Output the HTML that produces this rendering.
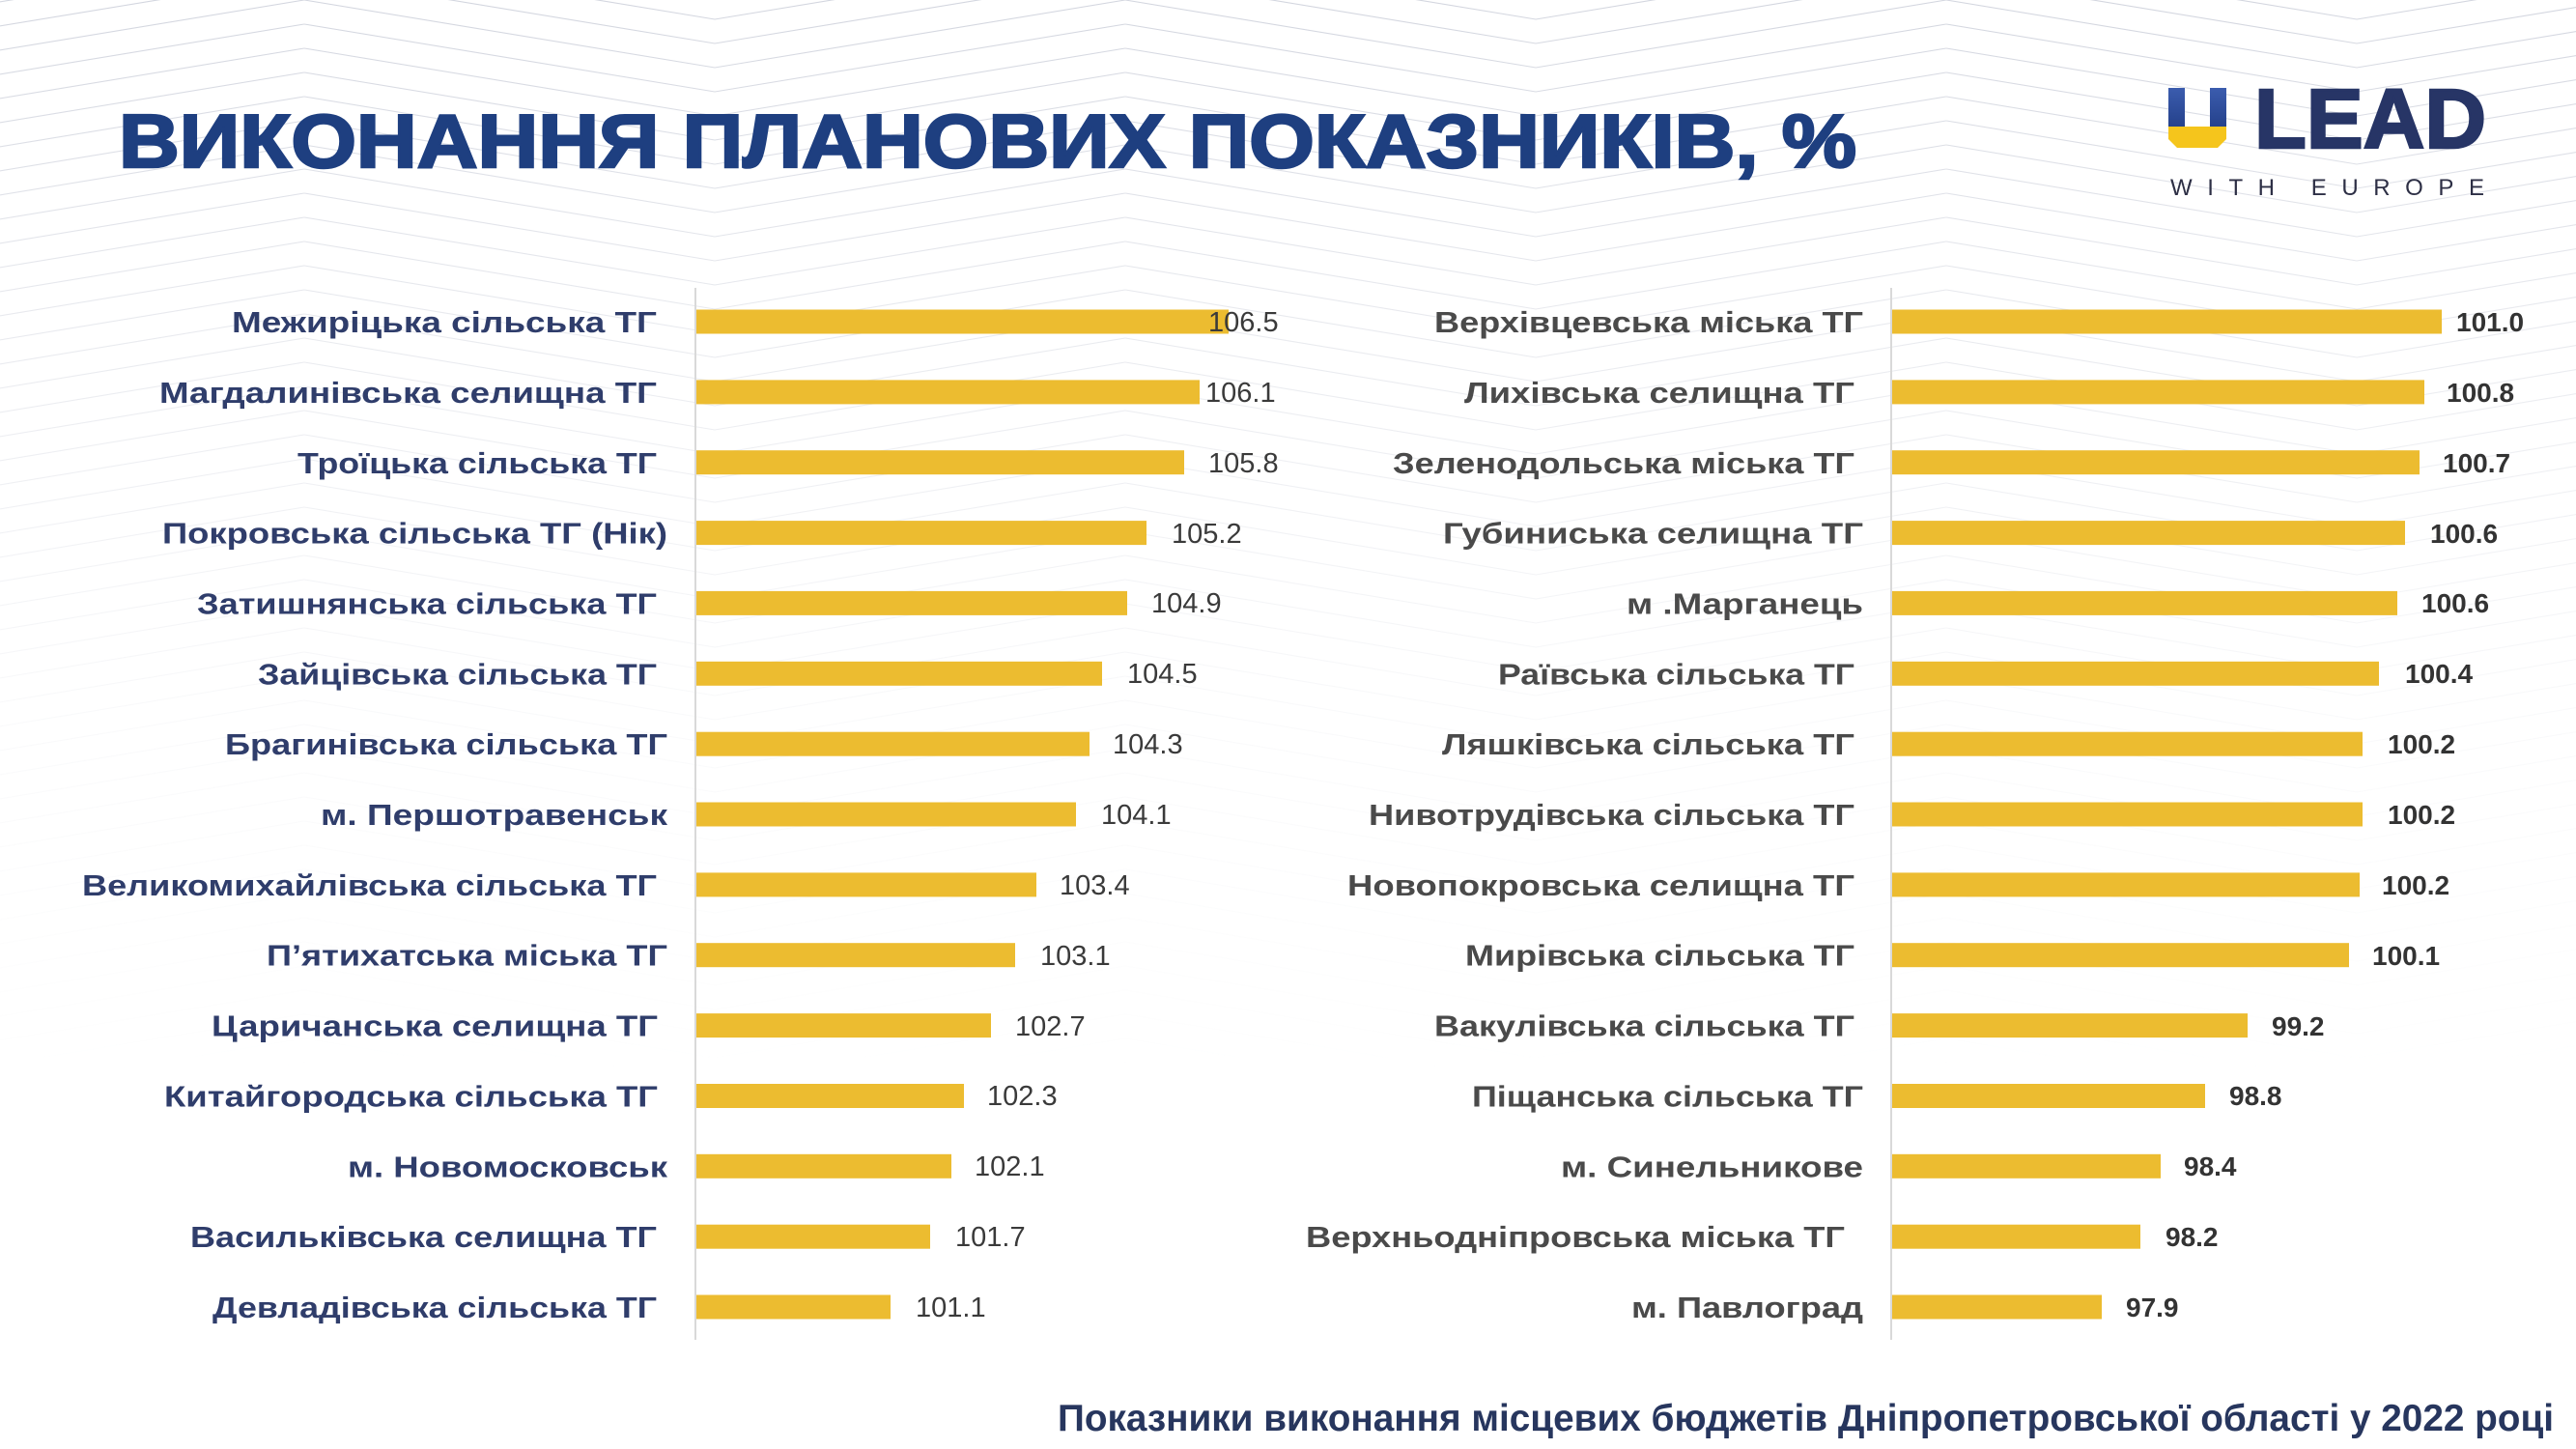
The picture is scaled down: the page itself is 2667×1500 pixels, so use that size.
<!DOCTYPE html>
<html><head><meta charset="utf-8"><style>
html,body{margin:0;padding:0;background:#fff;}
svg{display:block;}
.lab{font-family:"Liberation Sans",sans-serif;font-weight:bold;font-size:31px;fill:#2f3d6b;}
.labr{font-family:"Liberation Sans",sans-serif;font-weight:bold;font-size:31px;fill:#4a4a4a;}
.val{font-family:"Liberation Sans",sans-serif;font-size:29px;fill:#3a3a3a;}
.valr{font-family:"Liberation Sans",sans-serif;font-weight:bold;font-size:28px;fill:#333;}
</style></head><body>
<svg width="2667" height="1500" viewBox="0 0 2667 1500" xmlns="http://www.w3.org/2000/svg">
<defs>
<pattern id="zz" patternUnits="userSpaceOnUse" x="315" y="0" width="850" height="25">
<g fill="none" stroke="#d3d6df" stroke-width="1.1">
<polyline points="0,-75 425,-5 850,-75"/>
<polyline points="0,-50 425,20 850,-50"/>
<polyline points="0,-25 425,45 850,-25"/>
<polyline points="0,0 425,70 850,0"/>
<polyline points="0,25 425,95 850,25"/>
</g>
</pattern>
<linearGradient id="fade" x1="0" y1="0" x2="0" y2="1">
<stop offset="0" stop-color="#fff" stop-opacity="1"/>
<stop offset="0.2" stop-color="#fff" stop-opacity="0.55"/>
<stop offset="0.5" stop-color="#fff" stop-opacity="0.12"/>
<stop offset="0.75" stop-color="#fff" stop-opacity="0"/>
<stop offset="1" stop-color="#fff" stop-opacity="0"/>
</linearGradient>
<mask id="fm"><rect x="0" y="0" width="2667" height="1500" fill="url(#fade)"/></mask>
<linearGradient id="ublue" x1="0" y1="0" x2="0" y2="1">
<stop offset="0" stop-color="#3b5cae"/>
<stop offset="1" stop-color="#24408a"/>
</linearGradient>
</defs>
<rect x="0" y="0" width="2667" height="1500" fill="#fff"/>
<rect x="0" y="0" width="2667" height="1500" fill="url(#zz)" mask="url(#fm)"/>

<!-- Title -->
<text x="123" y="173" font-family="Liberation Sans, sans-serif" font-weight="bold" font-size="78" fill="#1e3f80" stroke="#1e3f80" stroke-width="2.5" textLength="1799" lengthAdjust="spacingAndGlyphs">ВИКОНАННЯ ПЛАНОВИХ ПОКАЗНИКІВ, %</text>

<!-- Logo -->
<rect x="2245" y="91" width="17" height="42" fill="url(#ublue)"/>
<rect x="2288" y="91" width="17" height="42" fill="url(#ublue)"/>
<polygon points="2245,131 2305,131 2305,144 2296,153 2254,153 2245,144" fill="#f5c51c"/>
<text x="2334" y="153" font-family="Liberation Sans, sans-serif" font-weight="bold" font-size="87" fill="#273566" stroke="#273566" stroke-width="2.5" textLength="240" lengthAdjust="spacingAndGlyphs">LEAD</text>
<text x="2247" y="202" font-family="Liberation Sans, sans-serif" font-size="24" fill="#2d2f45" textLength="325" lengthAdjust="spacing">WITH EUROPE</text>

<!-- Axes -->
<line x1="720" y1="298" x2="720" y2="1387" stroke="#d9d9d9" stroke-width="2"/>
<line x1="1958" y1="298" x2="1958" y2="1387" stroke="#d9d9d9" stroke-width="2"/>

<!-- Left bars -->
<g fill="#ecbc30">
<rect x="721" y="320.5" width="551" height="25"/>
<rect x="721" y="393.4" width="521" height="25"/>
<rect x="721" y="466.2" width="505" height="25"/>
<rect x="721" y="539.1" width="466" height="25"/>
<rect x="721" y="611.9" width="446" height="25"/>
<rect x="721" y="684.8" width="420" height="25"/>
<rect x="721" y="757.7" width="407" height="25"/>
<rect x="721" y="830.5" width="393" height="25"/>
<rect x="721" y="903.4" width="352" height="25"/>
<rect x="721" y="976.2" width="330" height="25"/>
<rect x="721" y="1049.1" width="305" height="25"/>
<rect x="721" y="1122.0" width="277" height="25"/>
<rect x="721" y="1194.8" width="264" height="25"/>
<rect x="721" y="1267.7" width="242" height="25"/>
<rect x="721" y="1340.5" width="201" height="25"/>
</g>

<!-- Right bars -->
<g fill="#ecbc30">
<rect x="1959" y="320.5" width="569" height="25"/>
<rect x="1959" y="393.4" width="551" height="25"/>
<rect x="1959" y="466.2" width="546" height="25"/>
<rect x="1959" y="539.1" width="531" height="25"/>
<rect x="1959" y="611.9" width="523" height="25"/>
<rect x="1959" y="684.8" width="504" height="25"/>
<rect x="1959" y="757.7" width="487" height="25"/>
<rect x="1959" y="830.5" width="487" height="25"/>
<rect x="1959" y="903.4" width="484" height="25"/>
<rect x="1959" y="976.2" width="473" height="25"/>
<rect x="1959" y="1049.1" width="368" height="25"/>
<rect x="1959" y="1122.0" width="324" height="25"/>
<rect x="1959" y="1194.8" width="278" height="25"/>
<rect x="1959" y="1267.7" width="257" height="25"/>
<rect x="1959" y="1340.5" width="217" height="25"/>
</g>

<!-- Left labels -->
<text class="lab" x="240" y="344" textLength="440" lengthAdjust="spacingAndGlyphs">Межиріцька сільська ТГ</text>
<text class="lab" x="165" y="417" textLength="515" lengthAdjust="spacingAndGlyphs">Магдалинівська селищна ТГ</text>
<text class="lab" x="308" y="490" textLength="372" lengthAdjust="spacingAndGlyphs">Троїцька сільська ТГ</text>
<text class="lab" x="168" y="562.6" textLength="523" lengthAdjust="spacingAndGlyphs">Покровська сільська ТГ (Нік)</text>
<text class="lab" x="204" y="635.4" textLength="476" lengthAdjust="spacingAndGlyphs">Затишнянська сільська ТГ</text>
<text class="lab" x="267" y="708.3" textLength="413" lengthAdjust="spacingAndGlyphs">Зайцівська сільська ТГ</text>
<text class="lab" x="233" y="781.2" textLength="458" lengthAdjust="spacingAndGlyphs">Брагинівська сільська ТГ</text>
<text class="lab" x="332" y="854" textLength="359" lengthAdjust="spacingAndGlyphs">м. Першотравенськ</text>
<text class="lab" x="85" y="926.9" textLength="595" lengthAdjust="spacingAndGlyphs">Великомихайлівська сільська ТГ</text>
<text class="lab" x="276" y="999.7" textLength="415" lengthAdjust="spacingAndGlyphs">П’ятихатська міська ТГ</text>
<text class="lab" x="219" y="1072.6" textLength="462" lengthAdjust="spacingAndGlyphs">Царичанська селищна ТГ</text>
<text class="lab" x="170" y="1145.5" textLength="511" lengthAdjust="spacingAndGlyphs">Китайгородська сільська ТГ</text>
<text class="lab" x="360" y="1218.3" textLength="331" lengthAdjust="spacingAndGlyphs">м. Новомосковськ</text>
<text class="lab" x="197" y="1291.2" textLength="483" lengthAdjust="spacingAndGlyphs">Васильківська селищна ТГ</text>
<text class="lab" x="220" y="1364" textLength="460" lengthAdjust="spacingAndGlyphs">Девладівська сільська ТГ</text>

<!-- Right labels -->
<text class="labr" x="1485" y="344" textLength="444" lengthAdjust="spacingAndGlyphs">Верхівцевська міська ТГ</text>
<text class="labr" x="1516" y="417" textLength="404" lengthAdjust="spacingAndGlyphs">Лихівська селищна ТГ</text>
<text class="labr" x="1442" y="490" textLength="478" lengthAdjust="spacingAndGlyphs">Зеленодольська міська ТГ</text>
<text class="labr" x="1494" y="562.6" textLength="435" lengthAdjust="spacingAndGlyphs">Губиниська селищна ТГ</text>
<text class="labr" x="1684" y="635.4" textLength="245" lengthAdjust="spacingAndGlyphs">м .Марганець</text>
<text class="labr" x="1551" y="708.3" textLength="369" lengthAdjust="spacingAndGlyphs">Раївська сільська ТГ</text>
<text class="labr" x="1493" y="781.2" textLength="427" lengthAdjust="spacingAndGlyphs">Ляшківська сільська ТГ</text>
<text class="labr" x="1417" y="854" textLength="503" lengthAdjust="spacingAndGlyphs">Нивотрудівська сільська ТГ</text>
<text class="labr" x="1395" y="926.9" textLength="525" lengthAdjust="spacingAndGlyphs">Новопокровська селищна ТГ</text>
<text class="labr" x="1517" y="999.7" textLength="403" lengthAdjust="spacingAndGlyphs">Мирівська сільська ТГ</text>
<text class="labr" x="1485" y="1072.6" textLength="435" lengthAdjust="spacingAndGlyphs">Вакулівська сільська ТГ</text>
<text class="labr" x="1524" y="1145.5" textLength="405" lengthAdjust="spacingAndGlyphs">Піщанська сільська ТГ</text>
<text class="labr" x="1616" y="1218.3" textLength="313" lengthAdjust="spacingAndGlyphs">м. Синельникове</text>
<text class="labr" x="1352" y="1291.2" textLength="558" lengthAdjust="spacingAndGlyphs">Верхньодніпровська міська ТГ</text>
<text class="labr" x="1689" y="1364" textLength="240" lengthAdjust="spacingAndGlyphs">м. Павлоград</text>

<!-- Left values -->
<text class="val" x="1251" y="343">106.5</text>
<text class="val" x="1248" y="416">106.1</text>
<text class="val" x="1251" y="489">105.8</text>
<text class="val" x="1213" y="562">105.2</text>
<text class="val" x="1192" y="634">104.9</text>
<text class="val" x="1167" y="707">104.5</text>
<text class="val" x="1152" y="780">104.3</text>
<text class="val" x="1140" y="853">104.1</text>
<text class="val" x="1097" y="926">103.4</text>
<text class="val" x="1077" y="999">103.1</text>
<text class="val" x="1051" y="1072">102.7</text>
<text class="val" x="1022" y="1144">102.3</text>
<text class="val" x="1009" y="1217">102.1</text>
<text class="val" x="989" y="1290">101.7</text>
<text class="val" x="948" y="1363">101.1</text>

<!-- Right values -->
<text class="valr" x="2543" y="343">101.0</text>
<text class="valr" x="2533" y="416">100.8</text>
<text class="valr" x="2529" y="489">100.7</text>
<text class="valr" x="2516" y="562">100.6</text>
<text class="valr" x="2507" y="634">100.6</text>
<text class="valr" x="2490" y="707">100.4</text>
<text class="valr" x="2472" y="780">100.2</text>
<text class="valr" x="2472" y="853">100.2</text>
<text class="valr" x="2466" y="926">100.2</text>
<text class="valr" x="2456" y="999">100.1</text>
<text class="valr" x="2352" y="1072">99.2</text>
<text class="valr" x="2308" y="1144">98.8</text>
<text class="valr" x="2261" y="1217">98.4</text>
<text class="valr" x="2242" y="1290">98.2</text>
<text class="valr" x="2201" y="1363">97.9</text>

<!-- Caption -->
<text x="1095" y="1481" font-family="Liberation Sans, sans-serif" font-weight="bold" font-size="39" fill="#27365e" textLength="1549" lengthAdjust="spacingAndGlyphs">Показники виконання місцевих бюджетів Дніпропетровської області у 2022 році</text>
</svg>
</body></html>
